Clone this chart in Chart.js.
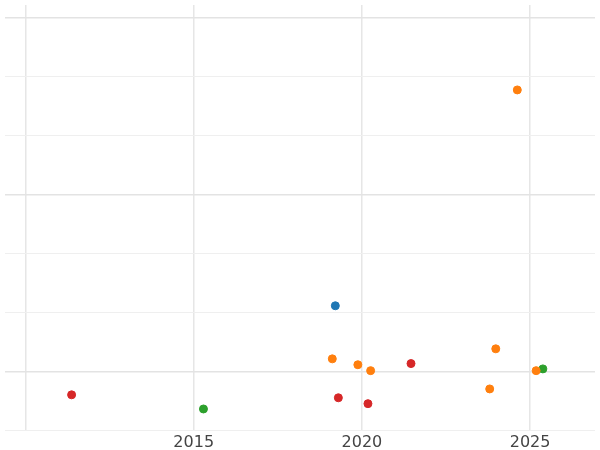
<!DOCTYPE html>
<html>
<head>
<meta charset="utf-8">
<script src="https://cdn.jsdelivr.net/npm/chart.js@4"></script>
<style>
  html, body { margin: 0; padding: 0; background: #fff; }
  #wrap { width: 600px; height: 450px; }
</style>
</head>
<body>
<div id="wrap"><canvas id="chart"></canvas></div>
<script>
// Point data (x = year, y = value)
const blueX = [2019.21];
const blueY = [1.12];
const orangeX = [2024.62, 2019.12, 2019.88, 2020.26, 2023.98, 2023.80, 2025.18];
const orangeY = [4.78, 0.22, 0.12, 0.02, 0.39, -0.29, 0.02];
const greenX = [2025.38, 2015.29];
const greenY = [0.05, -0.63];
const redX = [2011.37, 2019.30, 2020.18, 2021.46];
const redY = [-0.39, -0.44, -0.54, 0.14];

const xTicks = [2010, 2015, 2020, 2025];
const yTicks = [-1, 0, 1, 2, 3, 4, 5, 6];

function toPoints(xs, ys) {
    return xs.map((x, i) => ({ x: x, y: ys[i] }));
}

function series(xs, ys, color) {
    return {
        data: toPoints(xs, ys),
        backgroundColor: color,
        borderColor: color,
        pointRadius: 4,
        pointHoverRadius: 4
    };
}

new Chart(document.getElementById('chart'), {
    type: 'scatter',
    data: {
        datasets: [
            series(blueX, blueY, '#1f77b4'),
            series(orangeX, orangeY, '#ff7f0e'),
            series(greenX, greenY, '#2ca02c'),
            series(redX, redY, '#d62728')
        ]
    },
    options: {
        responsive: true,
        maintainAspectRatio: false,
        animation: false,
        layout: { padding: { left: -5, right: -5, top: -5, bottom: -4 } },
        plugins: { legend: { display: false }, tooltip: { enabled: false } },
        scales: {
            x: {
                type: 'linear',
                min: 2009.39,
                max: 2026.93,
                afterBuildTicks: axis => { axis.ticks = xTicks.map(v => ({ value: v })); },
                border: { display: false },
                grid: { color: '#e6e6e6', lineWidth: 1.5, drawTicks: false },
                ticks: {
                    padding: 2,
                    color: '#444',
                    font: { family: 'DejaVu Sans', size: 16 },
                    callback: v => v === 2010 ? '' : String(v)
                }
            },
            y: {
                type: 'linear',
                min: -1,
                max: 6.22,
                afterBuildTicks: axis => { axis.ticks = yTicks.map(v => ({ value: v })); },
                border: { display: false },
                grid: {
                    drawTicks: false,
                    color: ctx => (ctx.tick && ctx.tick.value % 3 === 0) ? '#e3e3e3' : '#efefef',
                    lineWidth: ctx => (ctx.tick && ctx.tick.value % 3 === 0) ? 1.5 : 1
                },
                ticks: { display: false }
            }
        }
    }
});
</script>
</body>
</html>
